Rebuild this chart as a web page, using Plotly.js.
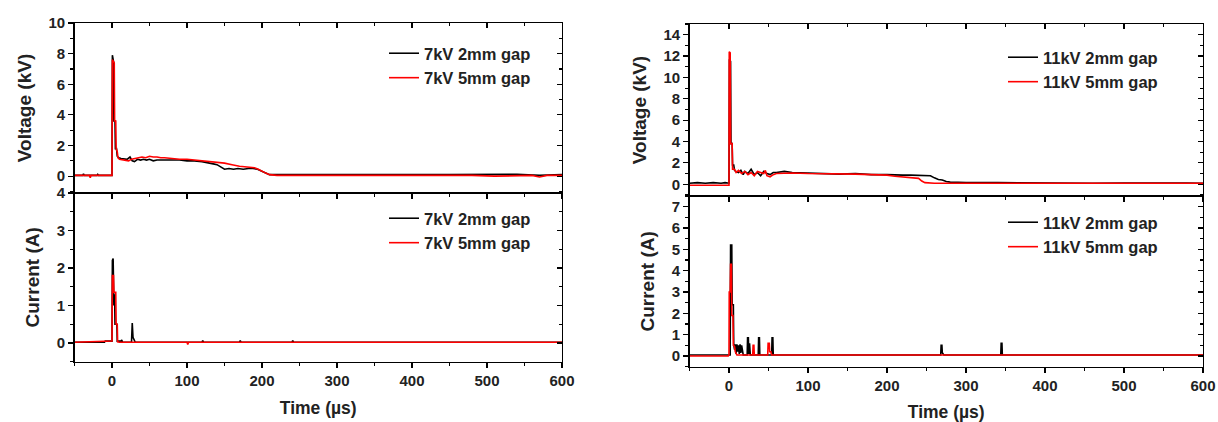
<!DOCTYPE html>
<html>
<head>
<meta charset="utf-8">
<script src="https://cdn.plot.ly/plotly-3.0.1.min.js"></script>
<style>
html,body{margin:0;padding:0;background:#fff;}
#chart{width:1218px;height:422px;}
</style>
</head>
<body>
<div id="chart"></div>
<script>
// ---------------- DATA ----------------
// Left panel: 7 kV, voltage (kV)
const v7_2mm_t = [-50,-39,-38,-37,-20,-19,-18,0,0.5,2,2.5,4,4.5,6,7,9,12,16,20,24,27,30,34,38,42,46,50,55,60,70,80,90,100,110,120,128,135,140,145,150,156,162,168,175,182,188,194,198,202,206,210,220,240,260,280,300,330,360,390,420,450,480,510,540,570,600];
const v7_2mm_v = [0.05,0.05,0.15,0.05,0.05,0.12,0.05,0.05,7.9,7.5,3.6,3.6,1.8,1.8,1.3,1.2,1.15,1.1,1.1,1.25,1.0,0.95,1.1,1.05,1.1,1.05,1.1,1.0,1.05,1.05,1.05,1.05,1.0,1.0,0.95,0.85,0.8,0.75,0.6,0.45,0.5,0.45,0.5,0.45,0.5,0.5,0.45,0.35,0.25,0.15,0.1,0.1,0.12,0.1,0.1,0.12,0.1,0.1,0.12,0.1,0.1,0.1,0.1,0.12,0.05,0.1];
const v7_5mm_t = [-50,-30,-29,-28,0,0.5,3,3.5,5,5.5,7,8,10,14,18,22,26,30,35,40,45,50,55,60,65,70,80,90,100,110,120,130,140,150,160,170,180,190,195,200,205,210,220,240,260,280,300,330,360,390,420,450,480,510,540,560,570,580,600];
const v7_5mm_v = [0.05,0.05,-0.1,0.05,0.05,7.6,7.4,3.6,3.6,1.8,1.6,1.2,1.1,1.05,1.0,1.0,1.1,1.15,1.2,1.25,1.2,1.3,1.25,1.25,1.2,1.2,1.15,1.1,1.1,1.05,1.0,0.95,0.9,0.85,0.75,0.65,0.6,0.55,0.45,0.3,0.2,0.1,0.05,0.05,0.05,0.05,0.05,0.02,0.05,0.05,0.05,0.05,0.05,0.0,0.05,0.05,-0.05,0.05,0.05];

// Left panel: 7 kV, current (A)
const i7_2mm_t = [-50,-10,-9,-1,0,0.5,1.5,2.5,3,3.5,4,5,6.5,7,12,13,14,26,27,28,29,30,31,40,80,120,121,122,170,171,172,200,240,241,242,300,400,500,600];
const i7_2mm_i = [0.02,0.02,0.05,0.05,0.05,2.2,2.25,1.0,1.3,1.3,0.5,0.5,0.5,0.05,0.05,0.08,0.02,0.02,0.53,0.15,0.1,0.05,0.02,0.02,0.02,0.02,0.06,0.02,0.02,0.06,0.02,0.02,0.02,0.06,0.02,0.02,0.02,0.02,0.02];
const i7_5mm_t = [-50,-5,-1,0,0.5,2,2.5,5,5.5,7,7.5,10,100,101,102,300,400,500,600];
const i7_5mm_i = [0.02,0.05,0.05,0.05,1.8,1.8,1.35,1.35,0.5,0.5,0.03,0.02,0.02,-0.04,0.02,0.02,0.02,0.02,0.02];

// Right panel: 11 kV, voltage (kV)
const v11_2mm_t = [-50,-40,-30,-20,-10,-5,0,0.5,2,2.5,4,4.5,6,7,9,12,15,18,20,24,28,32,36,40,44,48,52,56,60,70,80,100,120,140,160,180,200,210,220,230,240,250,255,260,265,270,275,280,300,340,380,420,460,500,540,580,600];
const v11_2mm_v = [0.1,0.15,0.1,0.15,0.1,0.15,0.1,11.7,11.5,3.8,3.8,1.8,1.8,1.3,1.2,1.1,1.3,0.9,1.2,1.0,1.4,0.9,1.1,0.8,1.2,1.0,0.9,1.1,1.1,1.2,1.1,1.05,1.0,0.95,1.0,0.9,0.9,0.85,0.85,0.85,0.85,0.85,0.8,0.6,0.45,0.4,0.25,0.2,0.15,0.15,0.12,0.15,0.1,0.12,0.15,0.12,0.1];
const v11_5mm_t = [-50,-20,0,0.3,1.5,2,4,4.5,7,9,12,16,20,24,28,32,36,40,44,46,48,52,56,60,80,100,120,140,160,180,200,210,220,230,240,244,248,260,300,340,380,420,460,500,540,580,600];
const v11_5mm_v = [-0.1,-0.1,-0.1,12.4,12.3,3.8,3.8,1.4,1.4,1.1,1.3,1.0,1.2,0.9,1.1,0.8,1.2,1.1,1.0,1.3,0.8,0.7,0.9,1.0,1.05,1.0,1.0,1.0,0.95,0.9,0.85,0.75,0.7,0.6,0.55,0.3,0.15,0.1,0.1,0.1,0.1,0.1,0.1,0.1,0.1,0.1,0.1];

// Right panel: 11 kV, current (A)
const i11_2mm_t = [-50,1.5,2,3.5,4,5.5,6,7,8,9,10,11,12,13,14,15,16,17,18,23,23.5,24.5,25,26,27,37,37.5,38.5,39,54,54.5,55.5,56,100,200,268,268.5,269.5,270,272,344,344.5,345.5,346,450,600];
const i11_2mm_i = [0.05,0.05,5.2,5.2,2.4,2.4,0.55,0.3,0.55,0.1,0.55,0.2,0.5,0.1,0.55,0.15,0.5,0.1,0.05,0.05,0.85,0.85,0.1,0.6,0.05,0.05,0.85,0.85,0.05,0.05,0.85,0.85,0.05,0.05,0.05,0.05,0.5,0.5,0.15,0.05,0.05,0.6,0.6,0.05,0.05,0.05];
const i11_5mm_t = [-50,-1,0,0.3,1.5,2,3,3.5,5,5.5,7,8,10,30,30.5,31.5,32,49,49.5,51,51.5,53,54,600];
const i11_5mm_i = [0.0,0.0,0.05,3.0,3.0,4.3,4.3,1.9,1.9,0.5,0.45,0.2,0.05,0.05,0.5,0.5,0.05,0.05,0.6,0.6,0.2,0.2,0.05,0.05];

// Labels
const names7 = ['7kV 2mm gap','7kV 5mm gap'];
const names11 = ['11kV 2mm gap','11kV 5mm gap'];
const xTitle = 'Time (µs)';
const yTitleV = 'Voltage (kV)';
const yTitleI = 'Current (A)';

// ---------------- STYLE ----------------
const FONT = 'Arial, "Liberation Sans", sans-serif';
const TXT = '#222222';
const BLACK = '#000000';
const RED = '#ff0000';
const LW = 1.6;

function tr(x, y, name, color, xa, ya, leg, grp) {
  return {type:'scatter', mode:'lines', x:x, y:y, name:name,
    line:{color:color, width:LW}, xaxis:xa, yaxis:ya,
    legend:leg, legendgroup:grp, hoverinfo:'skip'};
}

const data = [
  tr(v7_2mm_t, v7_2mm_v, names7[0], BLACK, 'x', 'y', 'legend', 'a'),
  tr(v7_5mm_t, v7_5mm_v, names7[1], RED, 'x', 'y', 'legend', 'b'),
  tr(i7_2mm_t, i7_2mm_i, names7[0], BLACK, 'x2', 'y2', 'legend2', 'c'),
  tr(i7_5mm_t, i7_5mm_i, names7[1], RED, 'x2', 'y2', 'legend2', 'd'),
  tr(v11_2mm_t, v11_2mm_v, names11[0], BLACK, 'x3', 'y3', 'legend3', 'e'),
  tr(v11_5mm_t, v11_5mm_v, names11[1], RED, 'x3', 'y3', 'legend3', 'f'),
  tr(i11_2mm_t, i11_2mm_i, names11[0], BLACK, 'x4', 'y4', 'legend4', 'g'),
  tr(i11_5mm_t, i11_5mm_i, names11[1], RED, 'x4', 'y4', 'legend4', 'h'),
];

// dummy (empty) traces for the mirrored inside-tick axes
const mirrorPairs = [['x5','y5'],['x6','y6'],['x7','y7'],['x8','y8']];
mirrorPairs.forEach(p => data.push({type:'scatter', mode:'lines', x:[], y:[], xaxis:p[0], yaxis:p[1], showlegend:false, hoverinfo:'skip'}));

const W = 1218, H = 422;
const px = v => v / W;
const py = v => 1 - v / H;

const domL = [px(74.5), px(562)];
const domR = [px(689.5), px(1203)];
const domLT = [py(193), py(23)];
const domLB = [py(361.7), py(193)];
const domRT = [py(196), py(24)];
const domRB = [py(366.7), py(196)];

const tickFont = {family:FONT, size:15, color:TXT, weight:'bold'};
const xTitleFont = {family:FONT, size:17.5, color:TXT, weight:'bold'};
const yTitleFont = {family:FONT, size:19, color:TXT, weight:'bold'};

function baseAx(extra) {
  return Object.assign({
    showline:true, linecolor:'#000', linewidth:1.3, mirror:false,
    showgrid:false, zeroline:false, ticks:'outside', ticklen:5, tickwidth:1.2, tickcolor:'#000',
    tickfont:tickFont, fixedrange:true
  }, extra);
}
function xAx(domain, anchor, labels) {
  const a = baseAx({domain:domain, anchor:anchor, range:[-50,600], dtick:100, tick0:0,
    minor:{dtick:50, ticks:'outside', ticklen:3, tickwidth:1.2, tickcolor:'#000'},
    showticklabels:labels});
  if (labels) a.title = {text:xTitle, font:xTitleFont, standoff:13};
  return a;
}
function yAx(domain, anchor, range, dtick, title) {
  return baseAx({domain:domain, anchor:anchor, range:range, dtick:dtick, tick0:0,
    minor:{dtick:dtick/2, ticks:'outside', ticklen:3, tickwidth:1.2, tickcolor:'#000'},
    title:{text:title, font:yTitleFont, standoff:12}});
}
function xMirror(domain, over, anchor) {
  return baseAx({domain:domain, overlaying:over, anchor:anchor, side:'top', range:[-50,600], dtick:100, tick0:0,
    ticks:'inside', minor:{dtick:50, ticks:'inside', ticklen:3, tickwidth:1.2, tickcolor:'#000'},
    showticklabels:false});
}
function yMirror(domain, over, anchor, range, dtick) {
  return baseAx({domain:domain, overlaying:over, anchor:anchor, side:'right', range:range, dtick:dtick, tick0:0,
    ticks:'inside', minor:{dtick:dtick/2, ticks:'inside', ticklen:3, tickwidth:1.2, tickcolor:'#000'},
    showticklabels:false});
}

const rLT = [-1.1, 10], rLB = [-0.5, 4], rRT = [-1.1, 15], rRB = [-0.5, 7.5];

function legendAt(xp, ytop) {
  return {x:px(xp), y:py(ytop), xanchor:'left', yanchor:'top', bgcolor:'rgba(0,0,0,0)',
    borderwidth:0, font:{family:FONT, size:16.5, color:TXT, weight:'bold'},
    tracegroupgap:2, itemwidth:30, traceorder:'normal'};
}

const layout = {
  width:W, height:H, margin:{l:0, r:0, t:0, b:0},
  paper_bgcolor:'#fff', plot_bgcolor:'rgba(0,0,0,0)',
  showlegend:true,
  xaxis: xAx(domL, 'y', false),
  yaxis: yAx(domLT, 'x', rLT, 2, yTitleV),
  xaxis2: xAx(domL, 'y2', true),
  yaxis2: yAx(domLB, 'x2', rLB, 1, yTitleI),
  xaxis3: xAx(domR, 'y3', false),
  yaxis3: yAx(domRT, 'x3', rRT, 2, yTitleV),
  xaxis4: xAx(domR, 'y4', true),
  yaxis4: yAx(domRB, 'x4', rRB, 1, yTitleI),
  xaxis5: xMirror(domL, 'x', 'y5'), yaxis5: yMirror(domLT, 'y', 'x5', rLT, 2),
  xaxis6: xMirror(domL, 'x2', 'y6'), yaxis6: yMirror(domLB, 'y2', 'x6', rLB, 1),
  xaxis7: xMirror(domR, 'x3', 'y7'), yaxis7: yMirror(domRT, 'y3', 'x7', rRT, 2),
  xaxis8: xMirror(domR, 'x4', 'y8'), yaxis8: yMirror(domRB, 'y4', 'x8', rRB, 1),
  legend: legendAt(384, 36),
  legend2: legendAt(384, 201),
  legend3: legendAt(1003, 40),
  legend4: legendAt(1003, 205),
};

Plotly.newPlot('chart', data, layout, {staticPlot:true, displayModeBar:false});
</script>
</body>
</html>
